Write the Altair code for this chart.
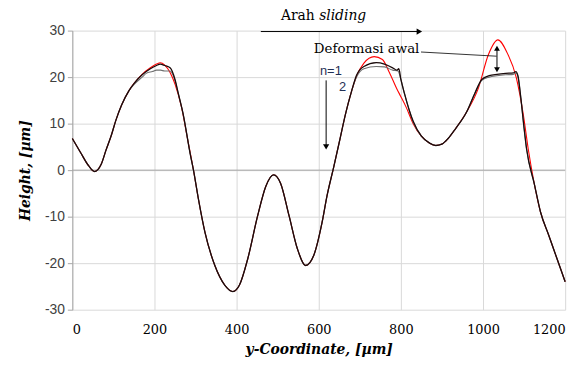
import altair as alt
import pandas as pd

# ---- profile data (y-Coordinate in µm, Height in µm) ----
x_awal = [0, 20, 40, 54, 70, 82, 95, 106, 120, 138, 150, 170, 190, 205, 214, 225, 238, 250, 266, 280,
          295, 307, 323, 347, 371, 391, 407, 427, 451, 471, 490, 507, 528, 548, 568, 588, 608, 620, 636,
          650, 665, 680, 692, 710, 735, 755, 772, 790, 800, 813, 830, 850, 870, 885, 900, 915, 933, 960,
          989, 1013, 1036, 1060, 1081, 1098, 1110, 1125, 1140, 1160, 1180, 1200]
h_awal = [6.8, 3.8, 0.9, -0.3, 1.2, 4.3, 7.5, 10.7, 14.0, 17.1, 18.6, 20.6, 22.0, 22.8, 23.1, 22.6, 21.0,
          18.5, 13.5, 7.0, 0.0, -6.2, -13.4, -20.5, -24.7, -26.1, -24.7, -19.1, -9.9, -3.5, -1.0, -2.8,
          -9.9, -16.9, -20.5, -18.3, -11.3, -5.6, 0.5, 6.0, 12.0, 17.0, 20.2, 23.0, 24.4, 23.8, 21.0, 17.5,
          15.8, 13.5, 10.0, 7.3, 5.8, 5.3, 5.6, 6.8, 8.9, 12.5, 17.7, 24.8, 28.0, 25.0, 19.9, 12.0, 4.6,
          -3.0, -9.0, -14.0, -19.0, -24.0]

x_n1 = [0, 20, 40, 54, 70, 82, 95, 106, 120, 138, 150, 170, 180, 195, 205, 215, 225, 238, 248, 258, 270,
        287, 295, 307, 323, 347, 371, 391, 407, 427, 451, 471, 490, 507, 528, 548, 568, 588, 608, 620, 636,
        650, 665, 680, 692, 710, 740, 760, 780, 793, 800, 809, 820, 830, 850, 870, 885, 900, 915, 933, 960,
        980, 997, 1015, 1034, 1055, 1074, 1080, 1085, 1092, 1100, 1106, 1125, 1140, 1160, 1180, 1200]
h_n1 = [6.8, 3.8, 0.9, -0.3, 1.2, 4.3, 7.5, 10.7, 14.0, 17.1, 18.4, 20.0, 20.8, 21.2, 21.5, 21.5, 21.3,
        21.3, 19.8, 16.5, 12.0, 3.5, 0.0, -6.2, -13.4, -20.5, -24.7, -26.1, -24.7, -19.1, -9.9, -3.5, -1.0,
        -2.8, -9.9, -16.9, -20.5, -18.3, -11.3, -5.6, 0.5, 6.0, 12.0, 17.0, 20.0, 21.8, 22.3, 22.2, 21.5,
        21.3, 19.5, 16.4, 13.0, 10.3, 7.3, 5.8, 5.3, 5.6, 6.8, 8.9, 12.5, 16.5, 19.3, 20.0, 20.3, 20.5,
        20.6, 20.9, 20.1, 15.6, 9.0, 4.6, -3.0, -9.0, -14.0, -19.0, -24.0]

x_n2 = [0, 20, 40, 54, 70, 82, 95, 106, 120, 138, 150, 170, 190, 205, 214, 225, 238, 250, 258, 270,
        287, 295, 307, 323, 347, 371, 391, 407, 427, 451, 471, 490, 507, 528, 548, 568, 588, 608, 620, 636,
        650, 665, 680, 692, 710, 740, 760, 780, 790, 795, 800, 809, 820, 830, 850, 870, 885, 900, 915, 933,
        960, 980, 997, 1015, 1034, 1055, 1074, 1080, 1085, 1092, 1100, 1106, 1125, 1140, 1160, 1180, 1200]
h_n2 = [6.8, 3.8, 0.9, -0.3, 1.2, 4.3, 7.5, 10.7, 14.0, 17.1, 18.6, 20.5, 21.8, 22.5, 22.8, 22.5, 22.0,
        19.5, 16.5, 12.0, 3.5, 0.0, -6.2, -13.4, -20.5, -24.7, -26.1, -24.7, -19.1, -9.9, -3.5, -1.0,
        -2.8, -9.9, -16.9, -20.5, -18.3, -11.3, -5.6, 0.5, 6.0, 12.0, 17.0, 20.4, 22.3, 23.1, 22.8, 22.0,
        21.5, 21.8, 19.5, 16.4, 13.0, 10.5, 7.3, 5.8, 5.3, 5.6, 6.8, 8.9, 12.5, 16.5, 19.5, 20.3, 20.6,
        20.8, 20.9, 21.2, 20.3, 15.6, 9.0, 4.6, -3.0, -9.0, -14.0, -19.0, -24.0]

# drawing order: red first (bottom), then n=1, then n=2 on top
series_names = ["Awal", "n=1", "n=2"]
series_colors = ["#ff0000", "#707070", "#1a0a0a"]
series_widths = [1.1, 1.1, 1.3]

# annotation data (in data units)
ann_arrow_x = [459, 845]
ann_arrow_y = 29.8
ann_vert_x = 618
ann_vert_y = [19.3, 5.0]
ann_dbl_x = 1034
ann_dbl_y = [26.2, 21.6]
ann_leader_x = [849, 1033]
ann_leader_y = [25.4, 24.5]

SERIF = "DejaVu Serif"
SANS = "Liberation Sans"

xs = alt.Scale(domain=[0, 1200], nice=False)
ys = alt.Scale(domain=[-30, 30], nice=False)

x_axis = alt.Axis(values=[0, 200, 400, 600, 800, 1000, 1200], grid=True, gridColor="#d9d9d9",
                  domain=False, ticks=False, labelFont=SERIF, labelFontSize=13, labelColor="#000000",
                  labelExpr="datum.value + ''",
                  labelPadding=14, title="y-Coordinate, [µm]", titleFont=SERIF, titleFontSize=14,
                  titleFontStyle="italic", titleFontWeight="bold", titleColor="#000000", titlePadding=6)
y_axis = alt.Axis(values=[-30, -20, -10, 0, 10, 20, 30], grid=True, gridColor="#d9d9d9",
                  domain=True, domainColor="#a6a6a6", ticks=True, tickSize=5, tickColor="#a6a6a6",
                  labelFont=SANS, labelFontSize=14, labelColor="#404040", labelPadding=3,
                  labelExpr="datum.value + ''",
                  title="Height, [µm]", titleFont=SERIF, titleFontSize=14, titleFontStyle="italic",
                  titleFontWeight="bold", titleColor="#000000", titlePadding=12)

layers = []
# zero line
zero = alt.Chart(pd.DataFrame({"y": [0]})).mark_rule(color="#a6a6a6", strokeWidth=1).encode(
    y=alt.Y("y:Q", scale=ys, axis=y_axis))
layers.append(zero)

for name, xsv, hsv, col, w in zip(series_names, [x_awal, x_n1, x_n2], [h_awal, h_n1, h_n2],
                                  series_colors, series_widths):
    d = pd.DataFrame({"x": xsv, "h": hsv, "o": list(range(len(xsv)))})
    layers.append(alt.Chart(d).mark_line(interpolate="monotone", color=col, strokeWidth=w).encode(
        x=alt.X("x:Q", scale=xs, axis=x_axis),
        y=alt.Y("h:Q", scale=ys, axis=y_axis),
        order="o:Q"))

# Arah sliding arrow
layers.append(alt.Chart(pd.DataFrame({"x": [ann_arrow_x[0]], "x2": [ann_arrow_x[1]], "y": [ann_arrow_y]}))
              .mark_rule(color="#000000", strokeWidth=1).encode(x="x:Q", x2="x2:Q", y="y:Q"))
layers.append(alt.Chart(pd.DataFrame({"x": [ann_arrow_x[1]], "y": [ann_arrow_y]}))
              .mark_point(shape="triangle-right", filled=True, size=40, color="#000000", opacity=1)
              .encode(x="x:Q", y="y:Q"))

# vertical n arrow
layers.append(alt.Chart(pd.DataFrame({"x": [ann_vert_x], "y": [ann_vert_y[0]], "y2": [ann_vert_y[1]]}))
              .mark_rule(color="#000000", strokeWidth=1).encode(x="x:Q", y="y:Q", y2="y2:Q"))
layers.append(alt.Chart(pd.DataFrame({"x": [ann_vert_x], "y": [ann_vert_y[1]]}))
              .mark_point(shape="triangle-down", filled=True, size=40, color="#000000", opacity=1)
              .encode(x="x:Q", y="y:Q"))

# leader line for Deformasi awal
layers.append(alt.Chart(pd.DataFrame({"x": [ann_leader_x[0]], "x2": [ann_leader_x[1]],
                                      "y": [ann_leader_y[0]], "y2": [ann_leader_y[1]]}))
              .mark_rule(color="#000000", strokeWidth=0.8).encode(x="x:Q", x2="x2:Q", y="y:Q", y2="y2:Q"))
# double arrow
layers.append(alt.Chart(pd.DataFrame({"x": [ann_dbl_x], "y": [ann_dbl_y[0]], "y2": [ann_dbl_y[1]]}))
              .mark_rule(color="#000000", strokeWidth=1).encode(x="x:Q", y="y:Q", y2="y2:Q"))
layers.append(alt.Chart(pd.DataFrame({"x": [ann_dbl_x, ann_dbl_x], "y": ann_dbl_y,
                                      "s": ["triangle-up", "triangle-down"]}))
              .mark_point(filled=True, size=35, color="#000000", opacity=1)
              .encode(x="x:Q", y="y:Q",
                      shape=alt.Shape("s:N", scale=alt.Scale(domain=["triangle-up", "triangle-down"],
                                                             range=["triangle-up", "triangle-down"]),
                                      legend=None)))

# texts
txt = pd.DataFrame({
    "x": [508, 601, 845, 603, 658],
    "y": [33.2, 33.2, 26.0, 21.4, 17.9],
    "t": ["Arah", "sliding", "Deformasi awal", "n=1", "2"],
})
layers.append(alt.Chart(txt.iloc[[0]]).mark_text(font=SERIF, fontSize=14, align="left", baseline="middle",
                                                 color="#000000").encode(x="x:Q", y="y:Q", text="t:N"))
layers.append(alt.Chart(txt.iloc[[1]]).mark_text(font=SERIF, fontSize=14, fontStyle="italic", align="left",
                                                 baseline="middle", color="#000000")
              .encode(x="x:Q", y="y:Q", text="t:N"))
layers.append(alt.Chart(txt.iloc[[2]]).mark_text(font=SERIF, fontSize=13.5, align="right", baseline="middle",
                                                 color="#000000").encode(x="x:Q", y="y:Q", text="t:N"))
layers.append(alt.Chart(txt.iloc[[3]]).mark_text(font=SANS, fontSize=13, align="left", baseline="middle",
                                                 color="#1f2f55").encode(x="x:Q", y="y:Q", text="t:N"))
layers.append(alt.Chart(txt.iloc[[4]]).mark_text(font=SANS, fontSize=13, align="center", baseline="middle",
                                                 color="#1f2f55").encode(x="x:Q", y="y:Q", text="t:N"))

chart = alt.layer(*layers).properties(
    width=498, height=282,
    padding={"left": 65, "top": 21, "right": 15, "bottom": 50},
    autosize=alt.AutoSizeParams(type="none"),
    background="#ffffff",
).configure_view(stroke=None)

chart.save("out.html", embed_options={"renderer": "svg", "actions": False})
